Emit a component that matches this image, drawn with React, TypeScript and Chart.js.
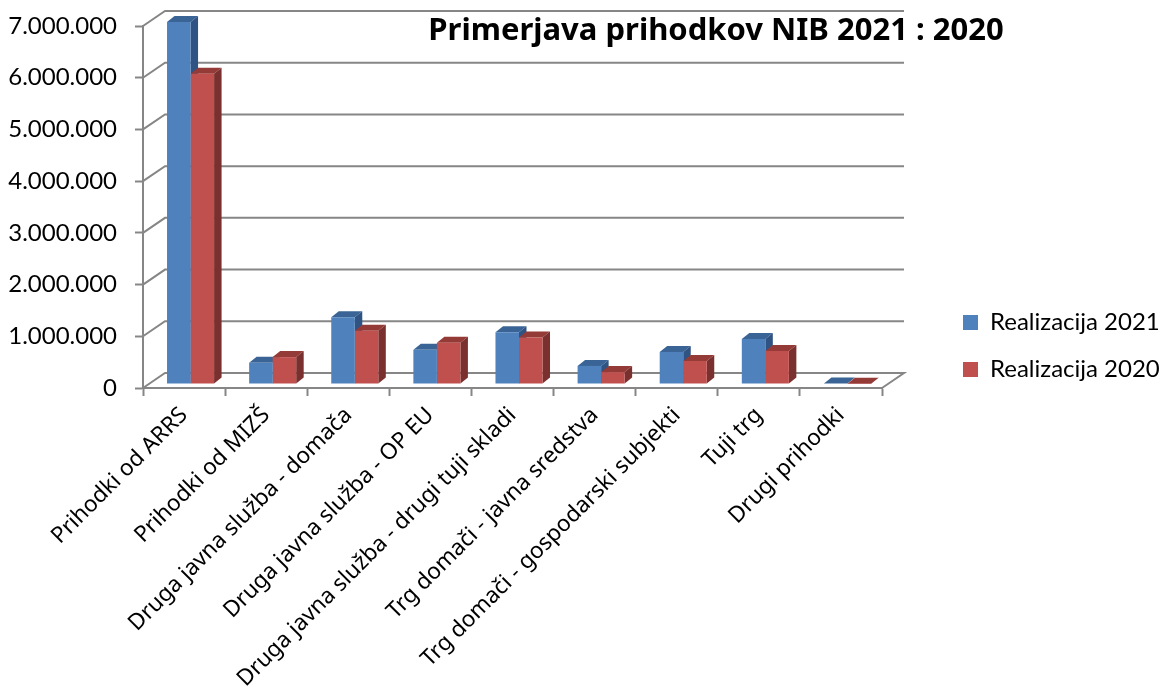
import React, { useEffect, useRef } from "react";
import { Chart, registerables } from "chart.js";

Chart.register(...registerables);

const chartTitle = "Primerjava prihodkov NIB 2021 : 2020";
const categories = [
  "Prihodki od ARRS",
  "Prihodki od MIZŠ",
  "Druga javna služba - domača",
  "Druga javna služba - OP EU",
  "Druga javna služba - drugi tuji skladi",
  "Trg domači - javna sredstva",
  "Trg domači - gospodarski subjekti",
  "Tuji trg",
  "Drugi prihodki",
];
const realizacija2021 = [7000000, 410000, 1290000, 660000, 1000000, 350000, 620000, 870000, 10000];
const realizacija2020 = [6000000, 520000, 1030000, 800000, 900000, 230000, 445000, 640000, 5000];

const AXIS = "#868686";
const BLUE = "#4F81BD";
const RED = "#C0504D";
const TOP_COLORS = ["#3A6495", "#943A37"];
const SIDE_COLORS = ["#2F5383", "#7A302E"];

// Perspective offsets
const WALL_DX = 22;
const WALL_DY = -15;
const BAR_DX = 6.5;
const BAR_DY = -4;
const DEPTH_DX = 7.5;
const DEPTH_DY = -6;

const depthPlugin = {
  id: "depth3d",
  afterLayout(chart: any) {
    if (chart.titleBlock) {
      chart.titleBlock.left = 316;
      chart.titleBlock.right = 1116;
    }
    if (chart.legend) {
      chart.legend.left = 940;
      chart.legend.right = 1163;
      chart.legend.top = 287.5;
      chart.legend.bottom = 688;
    }
  },
  beforeDatasetsDraw(chart: any) {
    const { ctx, scales } = chart;
    const { left, right } = chart.chartArea;
    ctx.save();
    ctx.strokeStyle = AXIS;
    ctx.lineWidth = 2;
    for (const t of scales.y.ticks) {
      const y = scales.y.getPixelForValue(t.value);
      ctx.beginPath();
      ctx.moveTo(left, y);
      ctx.lineTo(left + WALL_DX, y + WALL_DY);
      ctx.lineTo(right + WALL_DX, y + WALL_DY);
      if (t.value === 0) ctx.lineTo(right, y);
      ctx.stroke();
    }
    ctx.translate(BAR_DX, BAR_DY);
    // Depth faces, blue first so that the red ones lie over them; the native fronts follow.
    chart.data.datasets.forEach((_: any, i: number) => {
      for (const bar of chart.getDatasetMeta(i).data) {
        const p = bar.getProps(["x", "y", "base", "width"], true);
        const l = p.x - p.width / 2;
        const r = p.x + p.width / 2;
        ctx.fillStyle = TOP_COLORS[i];
        ctx.beginPath();
        ctx.moveTo(l, p.y);
        ctx.lineTo(r, p.y);
        ctx.lineTo(r + DEPTH_DX, p.y + DEPTH_DY);
        ctx.lineTo(l + DEPTH_DX, p.y + DEPTH_DY);
        ctx.closePath();
        ctx.fill();
        ctx.fillStyle = SIDE_COLORS[i];
        ctx.beginPath();
        ctx.moveTo(r, p.y);
        ctx.lineTo(r + DEPTH_DX, p.y + DEPTH_DY);
        ctx.lineTo(r + DEPTH_DX, p.base + DEPTH_DY);
        ctx.lineTo(r, p.base);
        ctx.closePath();
        ctx.fill();
      }
    });
    ctx.restore();
  },
  beforeDatasetDraw(chart: any) {
    chart.ctx.save();
    chart.ctx.translate(BAR_DX, BAR_DY);
  },
  afterDatasetDraw(chart: any) {
    chart.ctx.restore();
  },
};

export default function App() {
  const ref = useRef<HTMLCanvasElement | null>(null);
  useEffect(() => {
    if (!ref.current) return;
    const chart = new Chart(ref.current, {
      type: "bar",
      data: {
        labels: categories,
        datasets: [
          { label: "Realizacija 2021", data: realizacija2021, backgroundColor: BLUE, clip: false },
          { label: "Realizacija 2020", data: realizacija2020, backgroundColor: RED, clip: false },
        ],
      },
      options: {
        animation: false,
        responsive: false,
        layout: { autoPadding: false, padding: { left: 0, right: 280, top: 26, bottom: 0 } },
        datasets: { bar: { barPercentage: 1, categoryPercentage: 0.573 } },
        plugins: {
          tooltip: { enabled: false },
          title: {
            display: true,
            text: chartTitle,
            color: "#000",
            font: { family: "'Noto Sans'", size: 31, weight: "bold" },
            padding: { top: -13.6, bottom: -23.6 },
          },
          legend: {
            position: "right",
            align: "start",
            maxWidth: 1,
            labels: {
              color: "#000",
              boxWidth: 15,
              boxHeight: 15,
              padding: 23,
              font: { family: "Lato", size: 24 },
              sort: (a: any, b: any) => a.datasetIndex - b.datasetIndex,
            },
          },
        },
        scales: {
          x: {
            afterFit: (s: any) => { s.height = 300; },
            border: { color: AXIS, width: 2 },
            grid: { drawOnChartArea: false, drawTicks: true, tickLength: 8, tickColor: AXIS, tickWidth: 2 },
            ticks: {
              color: "#000",
              font: { family: "'Noto Sans'", size: 22.5 },
              minRotation: 45,
              maxRotation: 45,
              autoSkip: false,
              padding: 6,
            },
          },
          y: {
            min: 0,
            max: 7000000,
            afterFit: (s: any) => { s.width = 143; s.paddingTop = 0; s.paddingBottom = 0; },
            border: { color: AXIS, width: 2 },
            grid: { drawOnChartArea: false, drawTicks: true, tickLength: 8, tickColor: AXIS, tickWidth: 2 },
            ticks: {
              stepSize: 1000000,
              color: "#000",
              padding: 18,
              font: { family: "Lato", size: 24 },
              callback: (v: any) => String(v).replace(/\B(?=(\d{3})+$)/g, "."),
            },
          },
        },
      },
      plugins: [depthPlugin],
    } as any);
    return () => chart.destroy();
  }, []);
  return (
    <div style={{ position: "fixed", left: 0, top: 0, width: 1163, height: 688, background: "#fff" }}>
      <canvas ref={ref} width={1163} height={688} style={{ display: "block" }} />
    </div>
  );
}
